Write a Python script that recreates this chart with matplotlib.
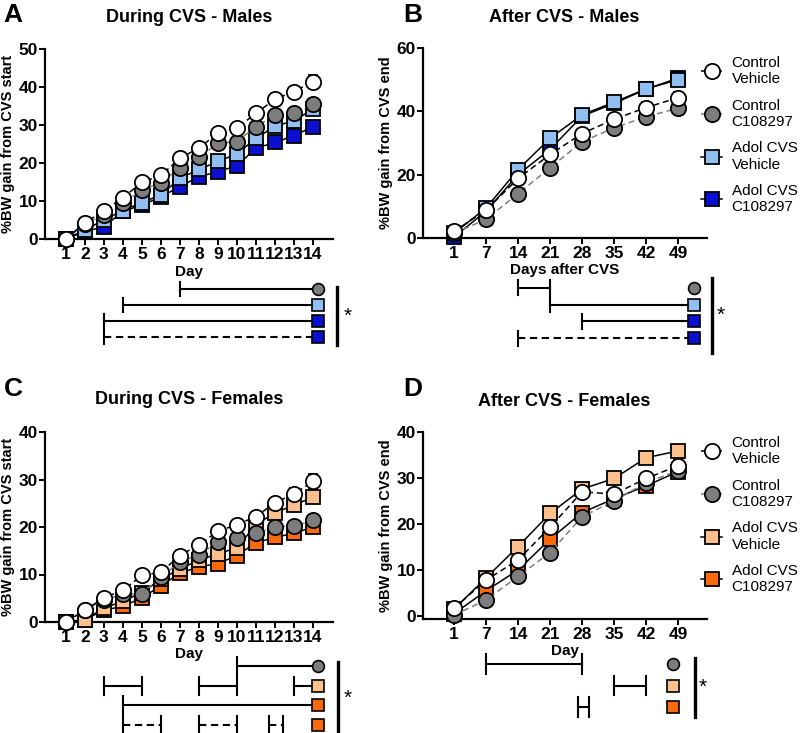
#!/usr/bin/env python3
"""Body weight gain during and after CVS, males and females (4-panel figure)."""

import matplotlib
matplotlib.use("Agg")
import matplotlib.pyplot as plt
from matplotlib.lines import Line2D
import numpy as np

plt.rcParams["font.family"] = ["Liberation Sans", "DejaVu Sans"]

W, H = 800, 733

DAYS_DURING = list(range(1, 15))
DAYS_AFTER = [1, 7, 14, 21, 28, 35, 42, 49]
GROUP_LABELS = ["Control\nVehicle", "Control\nC108297", "Adol CVS\nVehicle", "Adol CVS\nC108297"]

# A - during CVS, males (mean, sem)
male_during_ctrl_veh = [0, 4.3, 7.4, 10.9, 14.9, 16.8, 21.2, 24.0, 27.8, 29.2, 33.1, 36.8, 38.8, 41.4]
male_during_ctrl_c10 = [0, 4.0, 6.3, 9.4, 12.9, 14.8, 18.8, 21.5, 25.2, 25.6, 29.6, 32.5, 33.2, 35.4]
male_during_adol_veh = [0, 2.4, 5.0, 7.5, 9.6, 11.6, 16.0, 18.3, 20.4, 22.4, 26.5, 29.7, 31.1, 34.2]
male_during_adol_c10 = [0, 2.0, 3.2, 7.3, 8.9, 11.1, 13.8, 16.4, 17.7, 19.3, 23.9, 25.4, 27.2, 29.6]
male_during_sem = [
    [0, 0.4, 0.5, 0.6, 0.7, 0.7, 0.8, 0.9, 1.0, 1.0, 1.1, 1.2, 1.3, 1.7],
    [0, 0.4, 0.5, 0.6, 0.6, 0.7, 0.8, 0.8, 0.9, 1.0, 1.0, 1.1, 1.2, 1.3],
    [0, 0.3, 0.4, 0.5, 0.6, 0.6, 0.7, 0.8, 0.8, 0.9, 1.0, 1.0, 1.1, 1.2],
    [0, 0.3, 0.4, 0.4, 0.5, 0.6, 0.6, 0.7, 0.7, 0.8, 0.8, 0.9, 0.9, 1.0],
]

# B - after CVS, males
male_after_ctrl_veh = [2.1, 8.8, 18.8, 26.4, 33.0, 37.5, 41.2, 44.3]
male_after_ctrl_c10 = [1.5, 5.9, 14.0, 22.2, 30.4, 34.8, 38.3, 41.0]
male_after_adol_veh = [1.5, 9.5, 21.6, 31.5, 38.9, 42.9, 47.1, 50.0]
male_after_adol_c10 = [0.3, 8.5, 20.0, 28.0, 38.5, 42.5, 47.0, 50.5]
male_after_sem = [
    [0.4, 0.8, 1.0, 1.2, 1.3, 1.4, 1.6, 1.8],
    [0.4, 0.7, 0.9, 1.0, 1.1, 1.2, 1.3, 1.4],
    [0.4, 0.7, 0.9, 1.0, 1.1, 1.2, 1.3, 1.4],
    [0.4, 0.7, 0.9, 1.0, 1.1, 1.2, 1.3, 1.5],
]

# C - during CVS, females
female_during_ctrl_veh = [0, 2.5, 5.1, 6.7, 9.8, 10.5, 14.0, 16.3, 19.1, 20.5, 22.2, 25.1, 27.0, 29.6]
female_during_ctrl_c10 = [0, 2.5, 4.7, 5.8, 6.0, 9.5, 12.6, 14.2, 16.8, 17.7, 18.7, 20.0, 20.2, 21.4]
female_during_adol_veh = [0, 0.5, 2.9, 4.4, 6.2, 9.0, 11.2, 13.0, 14.4, 15.6, 20.5, 23.0, 24.6, 26.3]
female_during_adol_c10 = [0, 0.5, 2.5, 3.3, 5.1, 7.6, 10.3, 11.6, 12.3, 14.0, 16.7, 17.8, 18.7, 20.0]
female_during_sem = [
    [0, 0.3, 0.4, 0.5, 0.6, 0.6, 0.7, 0.8, 0.9, 0.9, 1.0, 1.1, 1.3, 1.5],
    [0, 0.3, 0.4, 0.5, 0.5, 0.6, 0.6, 0.7, 0.7, 0.8, 0.8, 0.9, 0.9, 1.0],
    [0, 0.3, 0.4, 0.5, 0.5, 0.6, 0.7, 0.7, 0.8, 0.8, 0.9, 1.0, 1.0, 1.1],
    [0, 0.3, 0.3, 0.4, 0.5, 0.5, 0.6, 0.6, 0.7, 0.7, 0.8, 0.8, 0.9, 0.9],
]

# D - after CVS, females
female_after_ctrl_veh = [1.7, 7.8, 12.2, 19.3, 27.0, 26.5, 29.9, 32.7]
female_after_ctrl_c10 = [0.2, 3.5, 8.6, 13.8, 21.6, 25.0, 29.0, 31.6]
female_after_adol_veh = [1.5, 8.3, 15.1, 22.3, 27.6, 29.9, 34.4, 35.9]
female_after_adol_c10 = [0.5, 5.5, 10.0, 16.7, 22.5, 25.5, 28.3, 31.4]
female_after_sem = [
    [0.4, 0.7, 0.8, 0.9, 1.0, 1.0, 1.1, 1.2],
    [0.3, 0.6, 0.8, 0.9, 1.0, 1.0, 1.1, 1.2],
    [0.4, 0.6, 0.8, 0.9, 1.0, 1.0, 1.1, 1.2],
    [0.4, 0.7, 0.9, 1.0, 1.1, 1.2, 1.3, 1.4],
]

# significance brackets: (start, end) in days, end=None runs to the group marker
sig_a_segments = [[(7, None)], [(4, None)], [(3, None)], [(3, None)]]
sig_a_dashed = [False, False, False, True]
sig_b_segments = [[(14, 21)], [(21, None)], [(28, None)], [(14, None)]]
sig_b_dashed = [False, False, False, True]
sig_c_segments = [
    [(10, None)],
    [(3, 5), (8, 10), (13, None)],
    [(4, None)],
    [(4, 6), (8, 10), (11.7, 12.4)],
]
sig_c_dashed = [False, False, False, True]
sig_d_segments = [[(7, 28)], [(35, 42)], [(27, 29.5)]]
sig_d_dashed = [False, False, False]

GREY = "#7d7d7d"
MALE_COLORS = ["white", GREY, "#92bff2", "#0a0fd0"]
FEMALE_COLORS = ["white", GREY, "#fbc08b", "#fb6a0a"]
MARKERS = ["o", "o", "s", "s"]
LINE_COLORS = ["black", GREY, "black", "black"]
LINE_STYLES = [(0, (4, 2.5)), (0, (4, 2.5)), "-", "-"]


def rect(left, top, right, bottom):
    return [left / W, 1 - bottom / H, (right - left) / W, (bottom - top) / H]


def style_axes(ax):
    for side in ("top", "right"):
        ax.spines[side].set_visible(False)
    for side in ("left", "bottom"):
        ax.spines[side].set_linewidth(1.6)
    ax.tick_params(direction="out", length=4, width=1.4, labelsize=12.5)
    ax.tick_params(axis="y", pad=1)
    ax.tick_params(axis="x", pad=1.5)
    for lab in ax.get_xticklabels() + ax.get_yticklabels():
        lab.set_fontweight("bold")


def draw_lines(ax, x, series, sems, colors):
    # draw darkest square first so circles sit on top, as in the original
    for i in [3, 2, 1, 0]:
        ax.errorbar(
            x, series[i], yerr=sems[i], color=LINE_COLORS[i], ls=LINE_STYLES[i], lw=1.1,
            marker=MARKERS[i], markersize=11 if MARKERS[i] == "o" else 10.5,
            markerfacecolor=colors[i], markeredgecolor="black", markeredgewidth=1.3,
            ecolor="black", elinewidth=1.2, capsize=3.5, capthick=1.2, clip_on=False,
            zorder=3 + (3 - i),
        )


def draw_sig(ax, segments, dashed, colors, xmap, marker_x, bar_x, star_x, bar_span):
    n = len(segments)
    marker_specs = [("o", GREY), ("s", colors[2]), ("s", colors[3]), ("s", colors[3])]
    for i, row in enumerate(segments):
        ls = (0, (3.5, 2.2)) if dashed[i] else "-"
        for start, end in row:
            x0 = xmap(start)
            x1 = marker_x if end is None else xmap(end)
            ax.plot([x0, x1], [i, i], color="black", lw=1.5, ls=ls, clip_on=False)
            ax.plot([x0, x0], [i - 0.45, i + 0.45], color="black", lw=1.5, clip_on=False)
            if end is not None:
                ax.plot([x1, x1], [i - 0.45, i + 0.45], color="black", lw=1.5, clip_on=False)
        mk, mc = marker_specs[i]
        ax.plot(marker_x, i, marker=mk, markersize=8.5 if mk == "o" else 9,
                markerfacecolor=mc, markeredgecolor="black", markeredgewidth=1.2,
                clip_on=False, zorder=5)
    ax.plot([bar_x, bar_x], bar_span, color="black", lw=2.4, clip_on=False)
    ax.text(star_x, (bar_span[0] + bar_span[1]) / 2, "*", fontsize=15,
            ha="left", va="center", clip_on=False)
    ax.set_ylim(n - 0.5, -0.5)
    ax.axis("off")


def main() -> None:
    fig = plt.figure(figsize=(W / 100, H / 100), dpi=100)

    idx_after = np.arange(len(DAYS_AFTER))

    def map_during(d):
        return d

    def map_after(d):
        return float(np.interp(d, DAYS_AFTER, idx_after))

    # ---- A
    ax_a = fig.add_axes(rect(45, 49, 333, 239))
    draw_lines(ax_a, DAYS_DURING,
               [male_during_ctrl_veh, male_during_ctrl_c10, male_during_adol_veh, male_during_adol_c10],
               male_during_sem, MALE_COLORS)
    ax_a.set_xlim(-0.1, 15.05)
    ax_a.set_ylim(0, 50)
    ax_a.set_xticks(DAYS_DURING)
    ax_a.set_yticks([0, 10, 20, 30, 40, 50])
    ax_a.set_ylabel("%BW gain from CVS start", fontsize=10.5, fontweight="bold")
    ax_a.yaxis.set_label_coords(-0.104, 0.5)
    ax_a.set_xlabel("Day", fontsize=11, fontweight="bold")
    ax_a.xaxis.set_label_coords(0.5, -0.135)
    style_axes(ax_a)

    # ---- B
    ax_b = fig.add_axes(rect(423, 48, 707, 238))
    draw_lines(ax_b, idx_after,
               [male_after_ctrl_veh, male_after_ctrl_c10, male_after_adol_veh, male_after_adol_c10],
               male_after_sem, MALE_COLORS)
    ax_b.set_xlim(-0.97, 7.9)
    ax_b.set_ylim(0, 60)
    ax_b.set_xticks(idx_after)
    ax_b.set_xticklabels([str(d) for d in DAYS_AFTER])
    ax_b.set_yticks([0, 20, 40, 60])
    ax_b.set_ylabel("%BW gain from CVS end", fontsize=10.5, fontweight="bold")
    ax_b.yaxis.set_label_coords(-0.106, 0.5)
    ax_b.set_xlabel("Days after CVS", fontsize=11, fontweight="bold")
    ax_b.xaxis.set_label_coords(0.5, -0.13)
    style_axes(ax_b)

    # ---- C
    ax_c = fig.add_axes(rect(45, 432, 333, 622))
    draw_lines(ax_c, DAYS_DURING,
               [female_during_ctrl_veh, female_during_ctrl_c10, female_during_adol_veh, female_during_adol_c10],
               female_during_sem, FEMALE_COLORS)
    ax_c.set_xlim(-0.1, 15.05)
    ax_c.set_ylim(0, 40)
    ax_c.set_xticks(DAYS_DURING)
    ax_c.set_yticks([0, 10, 20, 30, 40])
    ax_c.set_ylabel("%BW gain from CVS start", fontsize=10.5, fontweight="bold")
    ax_c.yaxis.set_label_coords(-0.104, 0.5)
    ax_c.set_xlabel("Day", fontsize=11, fontweight="bold")
    ax_c.xaxis.set_label_coords(0.5, -0.13)
    style_axes(ax_c)

    # ---- D
    ax_d = fig.add_axes(rect(423, 432, 707, 619))
    draw_lines(ax_d, idx_after,
               [female_after_ctrl_veh, female_after_ctrl_c10, female_after_adol_veh, female_after_adol_c10],
               female_after_sem, FEMALE_COLORS)
    ax_d.set_xlim(-0.97, 7.9)
    ax_d.set_ylim(-0.65, 40)
    ax_d.set_xticks(idx_after)
    ax_d.set_xticklabels([str(d) for d in DAYS_AFTER])
    ax_d.set_yticks([0, 10, 20, 30, 40])
    ax_d.set_ylabel("%BW gain from CVS end", fontsize=10.5, fontweight="bold")
    ax_d.yaxis.set_label_coords(-0.106, 0.5)
    ax_d.set_xlabel("Day", fontsize=11, fontweight="bold")
    ax_d.xaxis.set_label_coords(0.5, -0.135)
    style_axes(ax_d)

    # titles and panel letters
    for x, y, txt in [(189, 18, "During CVS - Males"), (564, 18, "After CVS - Males"),
                      (189, 400, "During CVS - Females"), (564, 401, "After CVS - Females")]:
        fig.text(x / W, 1 - y / H, txt, fontsize=13, fontweight="bold", ha="center", va="center")
    for x, y, txt in [(13, 15, "A"), (413, 15, "B"), (13, 389, "C"), (413, 389, "D")]:
        fig.text(x / W, 1 - y / H, txt, fontsize=19, fontweight="bold", ha="center", va="center")

    # legends
    for colors, top in [(MALE_COLORS, 56), (FEMALE_COLORS, 436)]:
        handles = [
            Line2D([0], [0], color=LINE_COLORS[i], ls=LINE_STYLES[i], lw=1.1, marker=MARKERS[i],
                   markersize=11 if MARKERS[i] == "o" else 10.5, markerfacecolor=colors[i],
                   markeredgecolor="black", markeredgewidth=1.3)
            for i in range(4)
        ]
        fig.legend(handles=handles, labels=GROUP_LABELS, loc="upper left",
                   bbox_to_anchor=(701 / W, 1 - top / H), frameon=False, fontsize=11,
                   handlelength=1.4, handletextpad=0.6, labelspacing=0.82,
                   borderpad=0, borderaxespad=0)

    # significance panels (share x scale with the plot above)
    sa = fig.add_axes(rect(45, 281, 333, 345))
    sa.set_xlim(ax_a.get_xlim())
    draw_sig(sa, sig_a_segments, sig_a_dashed, MALE_COLORS, map_during,
             14.25, 15.26, 15.6, (-0.12, 3.5))

    sb = fig.add_axes(rect(423, 279.6, 707, 346.4))
    sb.set_xlim(ax_b.get_xlim())
    draw_sig(sb, sig_b_segments, sig_b_dashed, MALE_COLORS, map_after,
             7.5, 8.06, 8.2, (-0.6, 3.9))

    sc = fig.add_axes(rect(45, 656, 333, 735))
    sc.set_xlim(ax_c.get_xlim())
    draw_sig(sc, sig_c_segments, sig_c_dashed, FEMALE_COLORS, map_during,
             14.26, 15.3, 15.6, (-0.2, 3.5))

    sd = fig.add_axes(rect(423, 653, 707, 718))
    sd.set_xlim(ax_d.get_xlim())
    draw_sig(sd, sig_d_segments, sig_d_dashed, FEMALE_COLORS, map_after,
             6.84, 7.53, 7.65, (-0.28, 2.45))

    fig.savefig("out.png", dpi=100)
    plt.close(fig)


if __name__ == "__main__":
    main()
